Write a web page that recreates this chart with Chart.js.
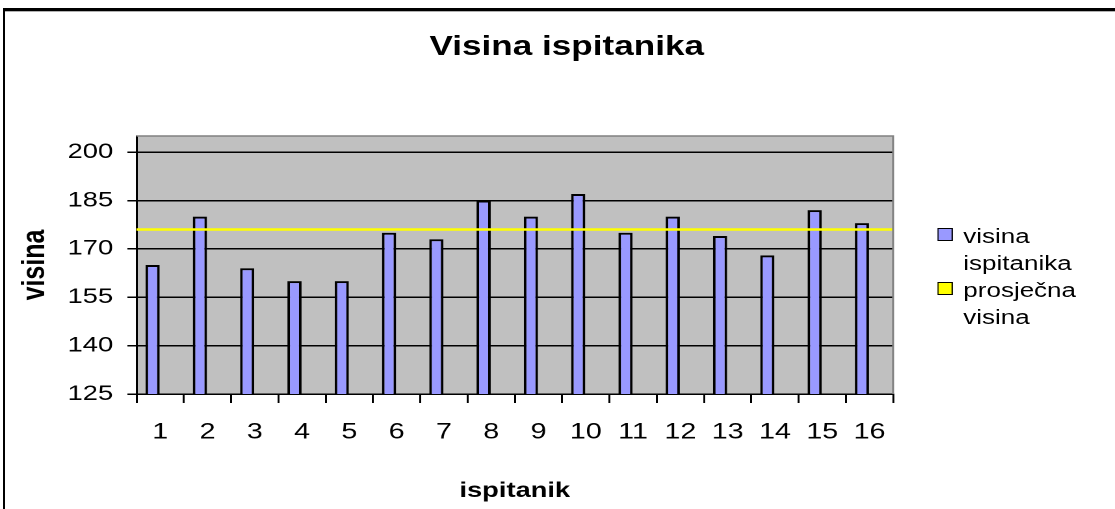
<!DOCTYPE html>
<html>
<head>
<meta charset="utf-8">
<script src="https://cdn.jsdelivr.net/npm/chart.js@4.4.1/dist/chart.umd.min.js"></script>
<style>
  html, body { margin: 0; padding: 0; background: #fff; overflow: hidden; width: 1115px; height: 509px; }
  #frame { position: absolute; left: 3px; top: 8px; width: 1300px; height: 700px; border-top: 3px solid #000; border-left: 2px solid #000; }
  #frame:after { content: ''; position: absolute; left: 0; right: 0; top: 0; height: 1px; background: #b0b0b0; }
  /* the reference is stretched sideways, so the whole chart is drawn narrow and scaled */
  #wrap { position: absolute; left: 0; top: 0; width: 858px; height: 509px; transform: scaleX(1.3); transform-origin: 0 0; }
  #title { position: absolute; left: 0; width: 872px; top: 33px; text-align: center; font: bold 27px/27px "Liberation Sans", Arial, sans-serif; color: #000; }
  #legend { position: absolute; left: 721px; top: 223px; width: 120px; font: 20px/27px "Liberation Sans", Arial, sans-serif; color: #000; }
  .item { position: relative; padding-left: 20px; width: 100px; }
  .box { position: absolute; left: 0; top: 5px; width: 10px; height: 11px; border: 1.5px solid #000; }
</style>
</head>
<body>
<div id="frame"></div>
<div id="wrap">
  <canvas id="chart"></canvas>
  <div id="title">Visina ispitanika</div>
  <div id="legend"></div>
</div>
<script>
// ---- data ----
const categories = ['1', '2', '3', '4', '5', '6', '7', '8', '9', '10', '11', '12', '13', '14', '15', '16'];
const heights = [165, 180, 164, 160, 160, 175, 173, 185, 180, 187, 175, 180, 174, 168, 182, 178];
const averageHeight = 176;
const yTicks = [125, 140, 155, 170, 185, 200];
const seriesNames = ['visina ispitanika', 'prosječna visina'];
const seriesColors = ['#9999ff', '#ffff00'];

const FONT = '"Liberation Sans", Arial, sans-serif';

// grey plot background + grey top/right edge, like the old Excel charts
const plotArea = {
  id: 'plotArea',
  beforeDraw(chart) {
    const { ctx, chartArea: a } = chart;
    ctx.save();
    ctx.fillStyle = '#c0c0c0';
    ctx.fillRect(a.left, a.top, a.right - a.left, a.bottom - a.top);
    ctx.restore();
  },
  afterDraw(chart) {
    const { ctx, chartArea: a } = chart;
    ctx.save();
    ctx.strokeStyle = '#808080';
    ctx.lineWidth = 1.5;
    ctx.beginPath();
    ctx.moveTo(a.left, a.top);
    ctx.lineTo(a.right, a.top);
    ctx.lineTo(a.right, a.bottom);
    ctx.stroke();
    ctx.restore();
  }
};

// Excel puts the columns a little left of the category centre
const barShift = {
  id: 'barShift',
  beforeDatasetDraw(chart) {
    chart.ctx.save();
    chart.ctx.translate(-5.8, 0);
  },
  afterDatasetDraw(chart) {
    chart.ctx.restore();
  }
};

// average line, across the whole plot, placed with the y scale
const averageLine = {
  id: 'averageLine',
  afterDatasetsDraw(chart) {
    const { ctx, chartArea: a, scales } = chart;
    const y = scales.y.getPixelForValue(averageHeight);
    ctx.save();
    ctx.strokeStyle = seriesColors[1];
    ctx.lineWidth = 2.5;
    ctx.beginPath();
    ctx.moveTo(a.left, y);
    ctx.lineTo(a.right, y);
    ctx.stroke();
    ctx.restore();
  }
};

const chart = new Chart(document.getElementById('chart'), {
  type: 'bar',
  data: {
    labels: categories,
    datasets: [{
      label: seriesNames[0],
      data: heights,
      backgroundColor: seriesColors[0],
      borderColor: '#000',
      borderWidth: 2,
      borderSkipped: false,
      categoryPercentage: 1,
      barPercentage: 0.3
    }]
  },
  options: {
    responsive: true,
    maintainAspectRatio: false,
    animation: false,
    devicePixelRatio: 2,
    layout: { padding: { top: 136, right: 171, bottom: 0, left: 0 } },
    plugins: {
      legend: { display: false },
      tooltip: { enabled: false }
    },
    scales: {
      x: {
        offset: true,
        grid: { offset: true, drawOnChartArea: false, drawTicks: true, tickLength: 9, color: '#000', lineWidth: 1.5 },
        border: { color: '#000', width: 1.5 },
        ticks: { color: '#000', padding: 16, font: { family: FONT, size: 22 } },
        title: { display: true, text: 'ispitanik', color: '#000', padding: { top: 0, bottom: 5 }, font: { family: FONT, size: 21, weight: 'bold' } },
        afterFit: (s) => { s.height = 115; }
      },
      y: {
        min: 125,
        max: 205,
        afterBuildTicks: (s) => { s.ticks = yTicks.map(v => ({ value: v })); },
        grid: { color: '#000', lineWidth: 1.5, drawTicks: true, tickLength: 7 },
        border: { color: '#000', width: 1.5 },
        ticks: { color: '#000', padding: 11, font: { family: FONT, size: 21 } },
        title: { display: true, text: 'visina', color: '#000', padding: { top: 12, bottom: 0 }, font: { family: FONT, size: 25, weight: 'bold' } },
        afterFit: (s) => { s.width = 105; }
      }
    }
  },
  plugins: [plotArea, barShift, averageLine]
});

// legend as html, two-line labels like the reference
const legendEl = document.getElementById('legend');
seriesNames.forEach((name, i) => {
  const item = document.createElement('div');
  item.className = 'item';
  const box = document.createElement('span');
  box.className = 'box';
  box.style.background = seriesColors[i];
  item.appendChild(box);
  item.appendChild(document.createTextNode(name));
  legendEl.appendChild(item);
});
</script>
</body>
</html>
